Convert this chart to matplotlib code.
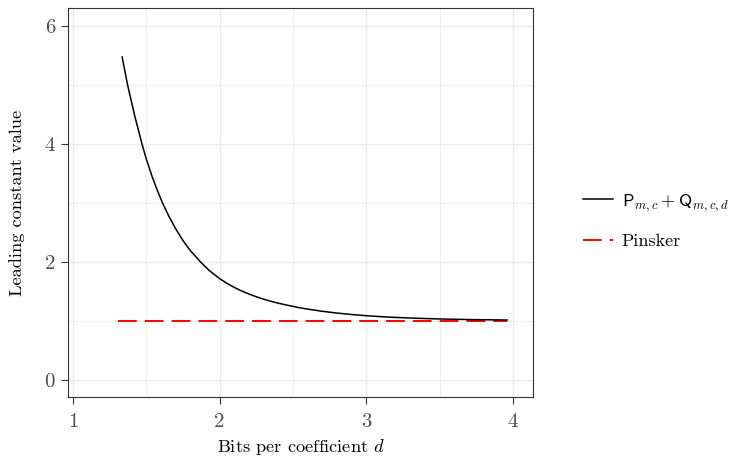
import numpy as np
import matplotlib
matplotlib.use("Agg")
import matplotlib.pyplot as plt

plt.rcParams['font.family'] = ['cmr10', 'DejaVu Serif']
plt.rcParams['mathtext.fontset'] = 'cm'
plt.rcParams['axes.unicode_minus'] = False
plt.rcParams['lines.scale_dashes'] = False

# values
bits = [1.335, 1.372, 1.42, 1.47, 1.50, 1.54, 1.575, 1.61, 1.65, 1.70,
        1.75, 1.80, 1.865, 1.93, 2.0, 2.05, 2.1, 2.15, 2.2, 2.25,
        2.3, 2.35, 2.4, 2.45, 2.5, 2.55, 2.6, 2.7, 2.8, 2.9,
        3.0, 3.1, 3.2, 3.3, 3.4, 3.5, 3.6, 3.7, 3.8, 3.9, 3.96]
leading = [5.47, 5.00, 4.48, 4.00, 3.74, 3.44, 3.21, 3.00, 2.79, 2.56,
           2.36, 2.19, 2.01, 1.85, 1.715, 1.635, 1.566, 1.506, 1.454, 1.408,
           1.367, 1.331, 1.299, 1.271, 1.245, 1.22, 1.199, 1.162, 1.132, 1.107,
           1.087, 1.071, 1.058, 1.048, 1.039, 1.032, 1.027, 1.022, 1.019, 1.016, 1.014]
pinsker_x = [1.306, 3.96]
pinsker_y = [1.0, 1.0]

xticks = [1, 2, 3, 4]
yticks = [0, 2, 4, 6]

fig = plt.figure(figsize=(7.33, 4.57), dpi=100)
ax = fig.add_axes([68/733, 60/457, 465/733, 389/457])

ax.plot(bits, leading, color='black', lw=1.1,
        label=r'$\mathsf{P}_{m,c}+\mathsf{Q}_{m,c,d}$', zorder=3)
ax.plot(pinsker_x, pinsker_y, color='red', lw=1.4, dashes=(13.5, 5.8),
        label='Pinsker', zorder=2)

ax.set_xlim(0.966, 4.136)
ax.set_ylim(-0.29, 6.3)
ax.set_xticks(xticks)
ax.set_xticklabels([str(t) for t in xticks])
ax.set_yticks(yticks)
ax.set_yticklabels([str(t) for t in yticks])
ax.set_xticks([1.5, 2.5, 3.5], minor=True)
ax.set_yticks([1, 3, 5], minor=True)
ax.grid(which='major', color='#ebebeb', lw=1.0)
ax.grid(which='minor', color='#ebebeb', lw=0.6)
ax.set_axisbelow(True)
ax.tick_params(which='major', length=4.8, width=0.8, color='#333333',
               labelcolor='#4d4d4d', labelsize=15)
ax.tick_params(axis='x', which='major', pad=7)
ax.tick_params(axis='y', which='major', pad=4.5)
ax.tick_params(which='minor', length=0)
for s in ax.spines.values():
    s.set_color('#333333')
    s.set_linewidth(0.8)

ax.set_xlabel(r'Bits per coefficient $d$', fontsize=13.2, labelpad=4)
ax.set_ylabel('Leading constant value', fontsize=13.2, labelpad=14)

fig.legend(loc='center left', bbox_to_anchor=(583/733, 1 - 220.5/457),
           frameon=False, fontsize=13, handlelength=1.65, handletextpad=0.5,
           labelspacing=1.1, borderpad=0, borderaxespad=0)

fig.savefig('out.png', dpi=100)
